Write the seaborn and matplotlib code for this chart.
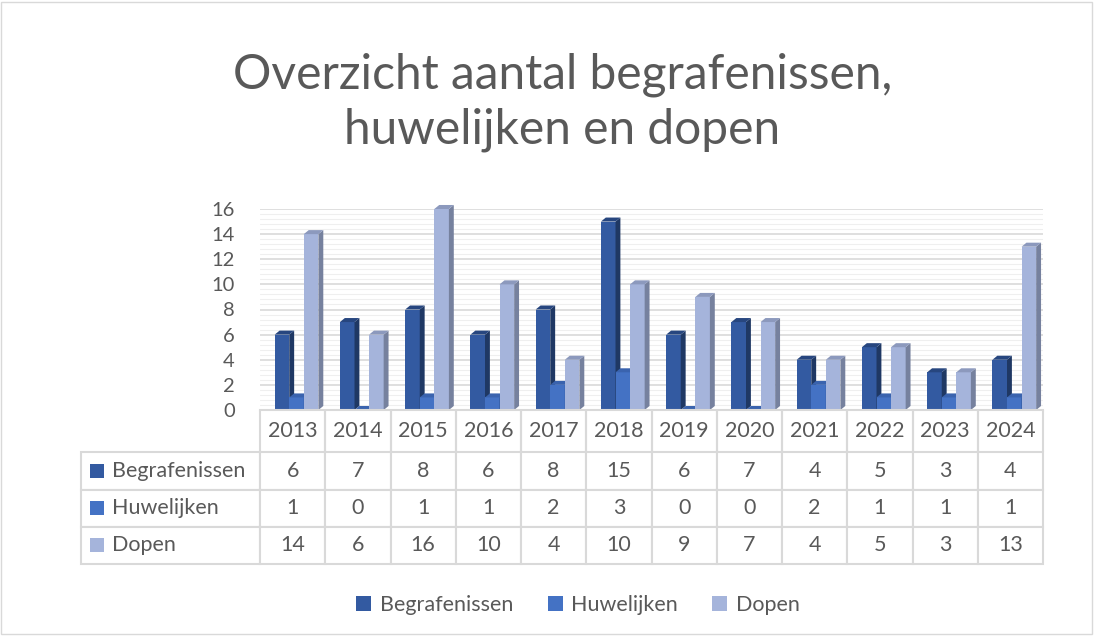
import numpy as np
import pandas as pd
import seaborn as sns
import matplotlib.pyplot as plt
from matplotlib.patches import Polygon, Rectangle

years = ['2013', '2014', '2015', '2016', '2017', '2018',
         '2019', '2020', '2021', '2022', '2023', '2024']
begrafenissen = [6, 7, 8, 6, 8, 15, 6, 7, 4, 5, 3, 4]
huwelijken = [1, 0, 1, 1, 2, 3, 0, 0, 2, 1, 1, 1]
dopen = [14, 6, 16, 10, 4, 10, 9, 7, 4, 5, 3, 13]

series_names = ['Begrafenissen', 'Huwelijken', 'Dopen']
series_values = [begrafenissen, huwelijken, dopen]

colors = ['#335AA1', '#4472C4', '#A5B4DB']
side_colors = ['#1F3864', '#2C4F8E', '#76819E']
top_colors = ['#27467F', '#3A63AE', '#8C99BD']

TEXT = '#595959'
GRID = '#D9D9D9'
FS = 15.5

sns.set_theme(style='white')
plt.rcParams['font.family'] = ['Lato', 'DejaVu Sans']

df = pd.DataFrame({
    'jaar': years * 3,
    'aantal': begrafenissen + huwelijken + dopen,
    'soort': np.repeat(series_names, len(years)),
})

W, H = 1109, 637
fig = plt.figure(figsize=(W / 100, H / 100), dpi=100)
ax = fig.add_axes([260 / W, 1 - 410 / H, (1043 - 260) / W, (410 - 209) / H])

sns.barplot(data=df, x='jaar', y='aantal', hue='soort', hue_order=series_names,
            palette=colors, width=0.67, gap=0, saturation=1, legend=False,
            ax=ax, linewidth=0)

# fake 3D: a side and a top face on every bar
dx, dy = 0.075, 0.32
n = len(years)
for k, p in enumerate(ax.patches[:3 * n]):
    i = k // n
    z = 2 + i * 0.1
    p.set_zorder(z)
    p.set_clip_on(False)
    x0, w, h = p.get_x() + 0.06, p.get_width(), p.get_height()
    p.set_x(x0)
    side = Polygon([(x0 + w, 0), (x0 + w + dx, dy), (x0 + w + dx, h + dy), (x0 + w, h)],
                   closed=True, facecolor=side_colors[i], edgecolor='none', zorder=z,
                   clip_on=False)
    top = Polygon([(x0, h), (x0 + dx, h + dy), (x0 + w + dx, h + dy), (x0 + w, h)],
                  closed=True, facecolor=top_colors[i], edgecolor='none', zorder=z,
                  clip_on=False)
    ax.add_patch(side)
    ax.add_patch(top)

ax.set_ylim(0, 16)
ax.set_xlim(-0.5, n - 0.5)
ax.set_yticks(range(0, 17, 2))
ax.set_yticks(np.arange(0, 16.01, 0.4), minor=True)
ax.grid(axis='y', which='major', color=GRID, linewidth=1.2, zorder=0)
ax.grid(axis='y', which='minor', color='#EFEFEF', linewidth=0.8, zorder=0)
ax.set_axisbelow(True)
ax.tick_params(axis='y', which='both', length=0, pad=18, labelsize=14.5, labelcolor=TEXT)
ax.set_xticks([])
ax.set_xlabel('')
ax.set_ylabel('')
for s in ['top', 'right', 'left']:
    ax.spines[s].set_visible(False)
ax.spines['bottom'].set_color(GRID)
ax.spines['bottom'].set_linewidth(1.5)

# data table under the plot (bbox covers the year columns, row labels hang left)
cell_text = [[str(v) for v in vals] for vals in series_values]
tab = ax.table(cellText=cell_text, rowLabels=series_names, colLabels=years,
               cellLoc='center', rowLoc='left', colLoc='center',
               colWidths=[1] * n, bbox=[0, -154 / 201, 1, 154 / 201])
tab.auto_set_font_size(False)
tab.set_fontsize(FS)
for (r, c), cell in tab.get_celld().items():
    cell.set_edgecolor(GRID)
    cell.set_linewidth(1.5)
    cell.get_text().set_color(TEXT)
    if c == -1:
        cell.PAD = 0.17
    if r == 0:
        cell.visible_edges = 'LR'
        cell.set_height(cell.get_height() * 1.14)

# title
fig.text(0.507, 1 - 102 / H, 'Overzicht aantal begrafenissen,\nhuwelijken en dopen',
         ha='center', va='center', fontsize=34.5, color=TEXT, linespacing=1.3)

# legend at bottom
handles = [Rectangle((0, 0), 1, 1, facecolor=c, edgecolor='none') for c in colors]
fig.legend(handles, series_names, loc='center', bbox_to_anchor=(578 / W, 1 - 605 / H),
           ncol=3, frameon=False, fontsize=FS, labelcolor=TEXT,
           handlelength=0.7, handleheight=0.7, handletextpad=0.4, columnspacing=1.6)

# outer frame
fig.add_artist(Rectangle((1 / W, 3 / H), 1091 / W, 632 / H, transform=fig.transFigure,
                         fill=False, edgecolor=GRID, linewidth=1))

# colour keys in the row-label cells
fig.canvas.draw()
inv = fig.transFigure.inverted()
for i, name in enumerate(series_names):
    bb = tab[i + 1, -1].get_window_extent(fig.canvas.get_renderer())
    cy = (bb.y0 + bb.y1) / 2
    sz = 14
    (fx, fy) = inv.transform((bb.x0 + 9, cy - sz / 2))
    fig.add_artist(Rectangle((fx, fy), sz / W, sz / H, transform=fig.transFigure,
                             facecolor=colors[i], edgecolor='none'))

fig.savefig('out.png', dpi=100)
